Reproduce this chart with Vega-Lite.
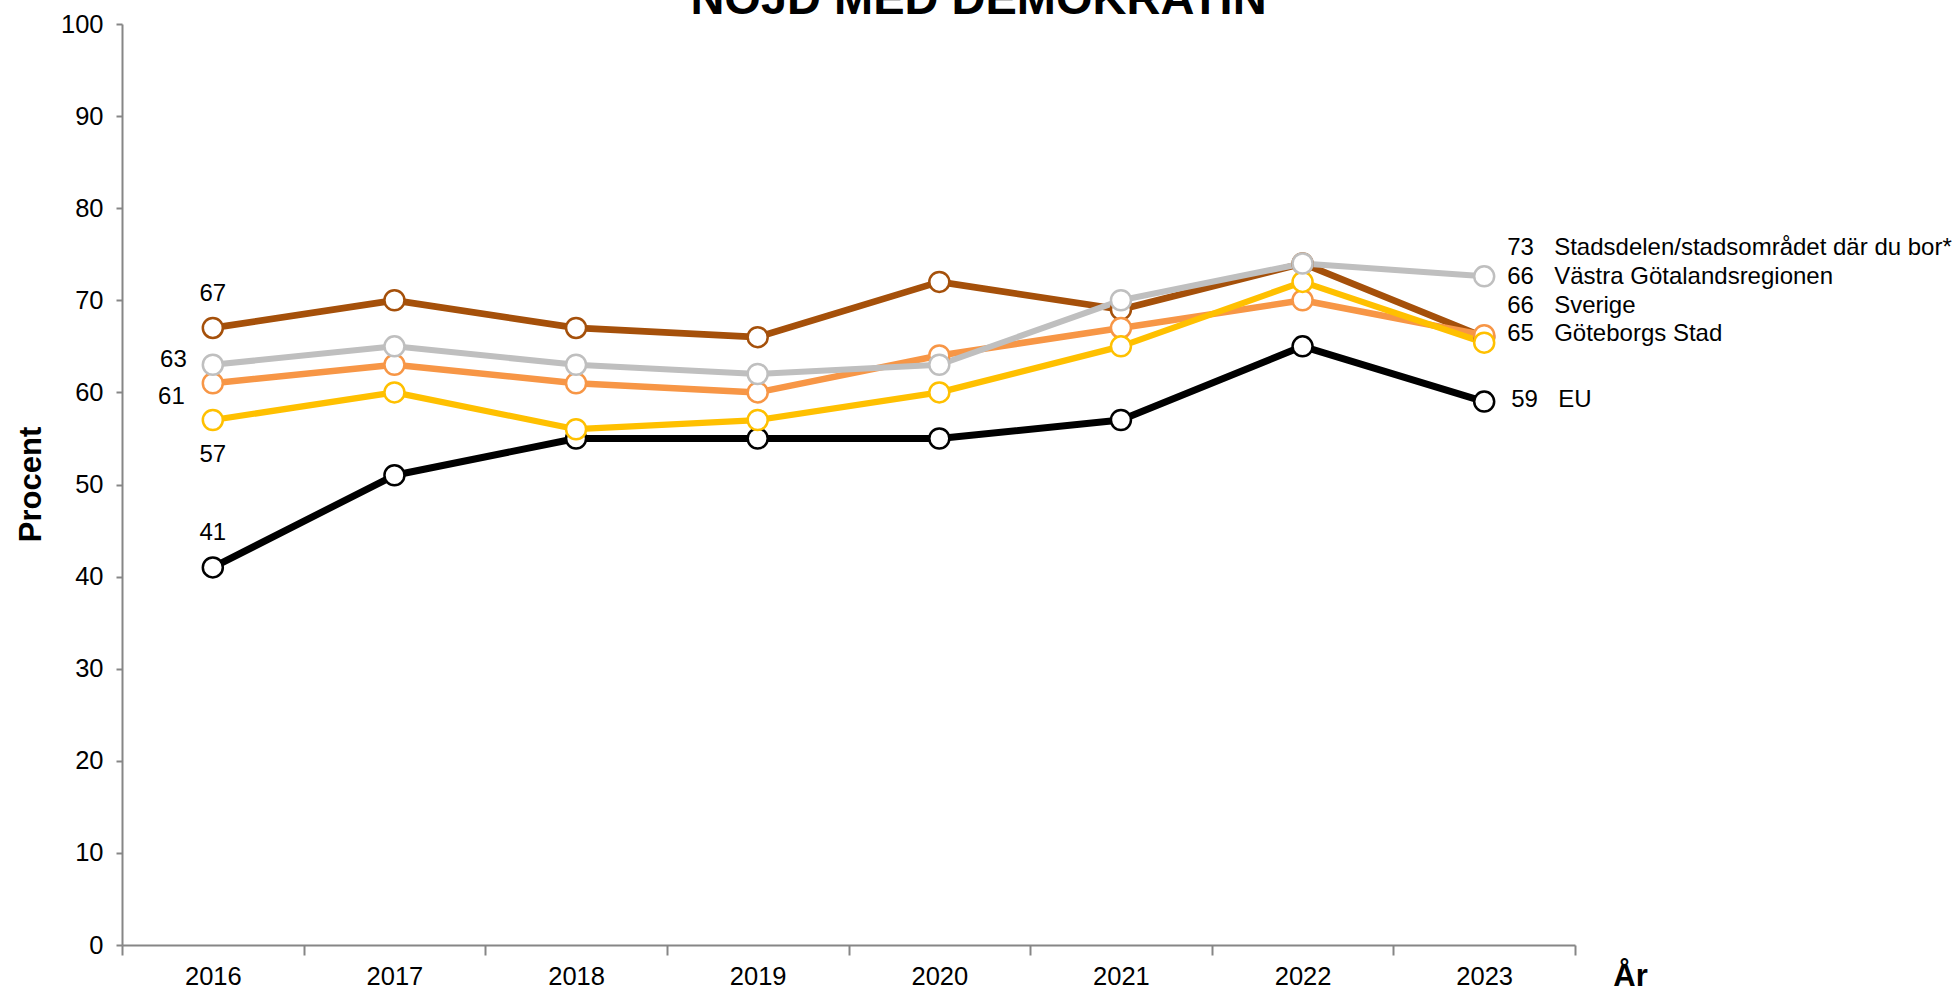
{
  "$schema": "https://vega.github.io/schema/vega-lite/v6.json",
  "width": 1453,
  "height": 921,
  "autosize": {"type": "none"},
  "padding": {"left": 122, "top": 24, "right": 381, "bottom": 43},
  "background": "white",
  "config": {
    "view": {"stroke": null},
    "font": "Liberation Sans",
    "text": {"font": "Liberation Sans", "fontSize": 24, "color": "#000000", "baseline": "middle"}
  },
  "title": {
    "text": "NÖJD MED DEMOKRATIN",
    "font": "Liberation Sans",
    "fontSize": 47,
    "fontWeight": "bold",
    "color": "#000000",
    "anchor": "middle",
    "frame": "group",
    "dx": 130,
    "dy": 49,
    "offset": 0,
    "baseline": "alphabetic"
  },
  "datasets": {
    "d": [
      {"series": "EU", "year": "2016", "value": 41},
      {"series": "EU", "year": "2017", "value": 51},
      {"series": "EU", "year": "2018", "value": 55},
      {"series": "EU", "year": "2019", "value": 55},
      {"series": "EU", "year": "2020", "value": 55},
      {"series": "EU", "year": "2021", "value": 57},
      {"series": "EU", "year": "2022", "value": 65},
      {"series": "EU", "year": "2023", "value": 59},
      {"series": "Sverige", "year": "2016", "value": 67},
      {"series": "Sverige", "year": "2017", "value": 70},
      {"series": "Sverige", "year": "2018", "value": 67},
      {"series": "Sverige", "year": "2019", "value": 66},
      {"series": "Sverige", "year": "2020", "value": 72},
      {"series": "Sverige", "year": "2021", "value": 69},
      {"series": "Sverige", "year": "2022", "value": 74},
      {"series": "Sverige", "year": "2023", "value": 66},
      {"series": "Västra Götalandsregionen", "year": "2016", "value": 61},
      {"series": "Västra Götalandsregionen", "year": "2017", "value": 63},
      {"series": "Västra Götalandsregionen", "year": "2018", "value": 61},
      {"series": "Västra Götalandsregionen", "year": "2019", "value": 60},
      {"series": "Västra Götalandsregionen", "year": "2020", "value": 64},
      {"series": "Västra Götalandsregionen", "year": "2021", "value": 67},
      {"series": "Västra Götalandsregionen", "year": "2022", "value": 70},
      {"series": "Västra Götalandsregionen", "year": "2023", "value": 66.2},
      {"series": "Göteborgs Stad", "year": "2016", "value": 57},
      {"series": "Göteborgs Stad", "year": "2017", "value": 60},
      {"series": "Göteborgs Stad", "year": "2018", "value": 56},
      {"series": "Göteborgs Stad", "year": "2019", "value": 57},
      {"series": "Göteborgs Stad", "year": "2020", "value": 60},
      {"series": "Göteborgs Stad", "year": "2021", "value": 65},
      {"series": "Göteborgs Stad", "year": "2022", "value": 72},
      {"series": "Göteborgs Stad", "year": "2023", "value": 65.4},
      {"series": "Stadsdelen/stadsområdet där du bor*", "year": "2016", "value": 63},
      {"series": "Stadsdelen/stadsområdet där du bor*", "year": "2017", "value": 65},
      {"series": "Stadsdelen/stadsområdet där du bor*", "year": "2018", "value": 63},
      {"series": "Stadsdelen/stadsområdet där du bor*", "year": "2019", "value": 62},
      {"series": "Stadsdelen/stadsområdet där du bor*", "year": "2020", "value": 63},
      {"series": "Stadsdelen/stadsområdet där du bor*", "year": "2021", "value": 70},
      {"series": "Stadsdelen/stadsområdet där du bor*", "year": "2022", "value": 74},
      {"series": "Stadsdelen/stadsområdet där du bor*", "year": "2023", "value": 72.6}
    ]
  },
  "data": {"name": "d"},
  "encoding": {
    "x": {
      "field": "year",
      "type": "ordinal",
      "sort": null,
      "scale": {"type": "band", "paddingInner": 0, "paddingOuter": 0},
      "axis": {
        "title": "År",
        "titleFont": "Liberation Sans",
        "titleFontSize": 31,
        "titleFontWeight": "bold",
        "titleColor": "#000000",
        "titleX": 1508,
        "titleY": 40,
        "titleAlign": "center",
        "titleBaseline": "alphabetic",
        "labelFont": "Liberation Sans",
        "labelFontSize": 25.5,
        "labelColor": "#000000",
        "labelPadding": 9,
        "labelAngle": 0,
        "tickSize": 10,
        "tickWidth": 2,
        "tickColor": "#868686",
        "domainColor": "#868686",
        "domainWidth": 2,
        "tickBand": "extent",
        "grid": false
      }
    },
    "y": {
      "field": "value",
      "type": "quantitative",
      "scale": {"domain": [0, 100], "nice": false},
      "axis": {
        "title": "Procent",
        "values": [0, 10, 20, 30, 40, 50, 60, 70, 80, 90, 100],
        "titleFont": "Liberation Sans",
        "titleFontSize": 31,
        "titleFontWeight": "bold",
        "titleColor": "#000000",
        "titleX": -91,
        "titleY": 460,
        "titleAngle": -90,
        "titleAlign": "center",
        "titleBaseline": "middle",
        "labelFont": "Liberation Sans",
        "labelFontSize": 25.5,
        "labelColor": "#000000",
        "labelPadding": 13,
        "tickSize": 6,
        "tickWidth": 2,
        "tickColor": "#868686",
        "domainColor": "#868686",
        "domainWidth": 2,
        "grid": false
      }
    }
  },
  "layer": [
    {
      "mark": {"type": "line", "strokeJoin": "round"},
      "encoding": {
        "color": {
          "field": "series",
          "type": "nominal",
          "scale": {
            "domain": ["EU", "Sverige", "Västra Götalandsregionen", "Göteborgs Stad", "Stadsdelen/stadsområdet där du bor*"],
            "range": ["#000000", "#A5500A", "#F79646", "#FFC000", "#BFBFBF"]
          },
          "legend": null
        },
        "strokeWidth": {
          "field": "series",
          "type": "nominal",
          "scale": {
            "domain": ["EU", "Sverige", "Västra Götalandsregionen", "Göteborgs Stad", "Stadsdelen/stadsområdet där du bor*"],
            "range": [7, 6, 6, 6, 6]
          },
          "legend": null
        }
      }
    },
    {
      "mark": {"type": "point", "filled": false, "fill": "white", "fillOpacity": 1, "size": 400, "strokeWidth": 2.5, "opacity": 1},
      "encoding": {
        "color": {"field": "series", "type": "nominal", "legend": null}
      }
    },
    {
      "transform": [{"filter": "datum.year == '2023' && datum.series == 'Stadsdelen/stadsområdet där du bor*'"}],
      "layer": [
        {"mark": {"type": "text", "align": "left", "dx": 23, "dy": -28}, "encoding": {"text": {"field": "value", "format": ".0f"}}},
        {"mark": {"type": "text", "align": "left", "dx": 70, "dy": -28}, "encoding": {"text": {"field": "series"}}}
      ]
    },
    {
      "transform": [{"filter": "datum.year == '2023' && datum.series == 'Västra Götalandsregionen'"}],
      "layer": [
        {"mark": {"type": "text", "align": "left", "dx": 23, "dy": -58}, "encoding": {"text": {"field": "value", "format": ".0f"}}},
        {"mark": {"type": "text", "align": "left", "dx": 70, "dy": -58}, "encoding": {"text": {"field": "series"}}}
      ]
    },
    {
      "transform": [{"filter": "datum.year == '2023' && datum.series == 'Sverige'"}],
      "layer": [
        {"mark": {"type": "text", "align": "left", "dx": 23, "dy": -31}, "encoding": {"text": {"field": "value", "format": ".0f"}}},
        {"mark": {"type": "text", "align": "left", "dx": 70, "dy": -31}, "encoding": {"text": {"field": "series"}}}
      ]
    },
    {
      "transform": [{"filter": "datum.year == '2023' && datum.series == 'Göteborgs Stad'"}],
      "layer": [
        {"mark": {"type": "text", "align": "left", "dx": 23, "dy": -9}, "encoding": {"text": {"field": "value", "format": ".0f"}}},
        {"mark": {"type": "text", "align": "left", "dx": 70, "dy": -9}, "encoding": {"text": {"field": "series"}}}
      ]
    },
    {
      "transform": [{"filter": "datum.year == '2023' && datum.series == 'EU'"}],
      "layer": [
        {"mark": {"type": "text", "align": "left", "dx": 27, "dy": -2}, "encoding": {"text": {"field": "value", "format": ".0f"}}},
        {"mark": {"type": "text", "align": "left", "dx": 74, "dy": -2}, "encoding": {"text": {"field": "series"}}}
      ]
    },
    {
      "transform": [{"filter": "datum.year == '2016' && datum.series == 'Sverige'"}],
      "mark": {"type": "text", "align": "center", "dy": -34},
      "encoding": {"text": {"field": "value", "format": ".0f"}}
    },
    {
      "transform": [{"filter": "datum.year == '2016' && datum.series == 'Stadsdelen/stadsområdet där du bor*'"}],
      "mark": {"type": "text", "align": "right", "dx": -26, "dy": -5},
      "encoding": {"text": {"field": "value", "format": ".0f"}}
    },
    {
      "transform": [{"filter": "datum.year == '2016' && datum.series == 'Västra Götalandsregionen'"}],
      "mark": {"type": "text", "align": "right", "dx": -28, "dy": 14},
      "encoding": {"text": {"field": "value", "format": ".0f"}}
    },
    {
      "transform": [{"filter": "datum.year == '2016' && datum.series == 'Göteborgs Stad'"}],
      "mark": {"type": "text", "align": "center", "dy": 35},
      "encoding": {"text": {"field": "value", "format": ".0f"}}
    },
    {
      "transform": [{"filter": "datum.year == '2016' && datum.series == 'EU'"}],
      "mark": {"type": "text", "align": "center", "dy": -34},
      "encoding": {"text": {"field": "value", "format": ".0f"}}
    }
  ]
}
